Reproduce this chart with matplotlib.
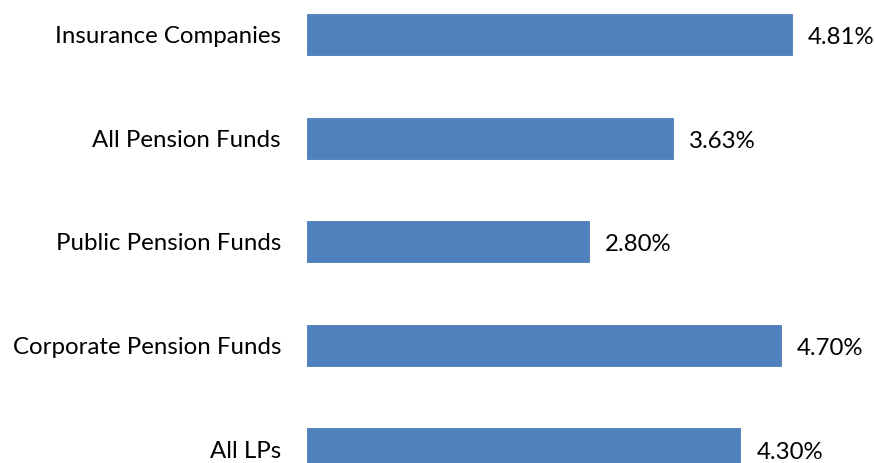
import matplotlib
matplotlib.use('Agg')
import matplotlib.pyplot as plt

# LP categories, top to bottom
categories = ['Insurance Companies', 'All Pension Funds', 'Public Pension Funds',
              'Corporate Pension Funds', 'All LPs']
values = [4.81, 3.63, 2.80, 4.70, 4.30]

plt.rcParams['font.family'] = ['Lato', 'DejaVu Sans']

fig = plt.figure(figsize=(8.75, 4.63), dpi=100)
ax = fig.add_axes([307 / 875, 0, 1 - 307 / 875, 1])

pos = list(range(len(categories)))
ax.barh(pos, values, height=0.396, color='#4F81BD', edgecolor='#4A7EBB', linewidth=0.6)

# value labels sit a touch below the bar centre
for p, v in zip(pos, values):
    ax.text(v + 0.16, p + 0.03, '{:.2f}%'.format(v), va='center', ha='left',
            fontsize=17.3, color='black')

ax.set_xlim(0, 568 / 100.8)
ax.set_ylim(4.135, -0.333)
ax.set_yticks(pos)
ax.set_yticklabels(categories, fontsize=17.3)
ax.tick_params(axis='y', length=0, pad=18.7)
ax.set_xticks([])
for s in ax.spines.values():
    s.set_visible(False)

fig.savefig('out.png', dpi=100)
